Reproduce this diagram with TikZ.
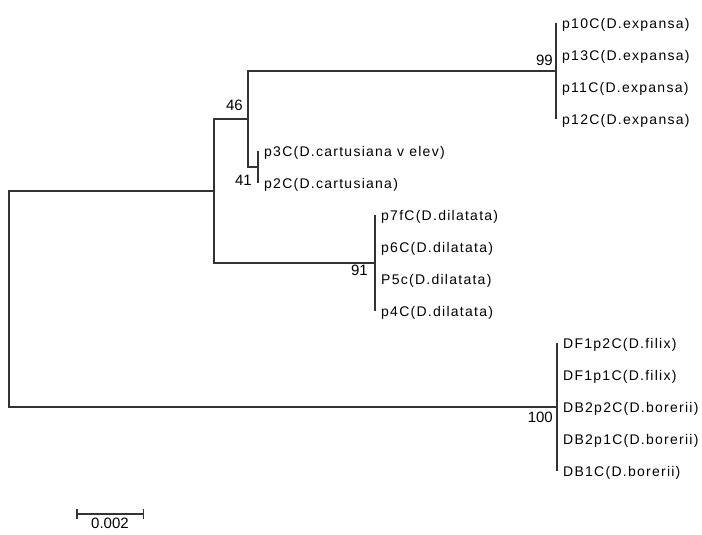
\documentclass[tikz,border=0pt]{standalone}
\usepackage{fontspec}
\setmainfont{Liberation Sans}
\newfontfamily\taxonfont{Liberation Sans}[LetterSpace=9]
\usetikzlibrary{arrows.meta,positioning}

\begin{document}
\begin{tikzpicture}[
    x=1pt, y=-1pt,
    node distance=6pt,
    branch/.style={draw=black!80, line width=1.8pt},
    taxon/.style={font=\taxonfont\fontsize{14}{14}\selectfont, inner sep=0pt, yshift=-2pt},
    boot/.style={font=\fontsize{15}{15}\selectfont, inner sep=0pt},
    scalebar/.style={branch, line width=1.5pt, {Bar[width=10pt]}-{Bar[width=10pt]}}
  ]
    \useasboundingbox (0,0) rectangle (702,535);

    % internal nodes of the tree
    \coordinate (root) at (9,299);
    \coordinate (nA) at (214,191);
    \coordinate (nB) at (248,119);
    \coordinate (nC) at (258,167);
    \coordinate (nD) at (556,71);
    \coordinate (nE) at (375,263);
    \coordinate (nF) at (557,407);

    % tips
    \coordinate (t1) at (556,23);
    \coordinate (t2) at (556,55);
    \coordinate (t3) at (556,87);
    \coordinate (t4) at (556,119);
    \coordinate (t5) at (258,151);
    \coordinate (t6) at (258,183);
    \coordinate (t7) at (375,215);
    \coordinate (t8) at (375,247);
    \coordinate (t9) at (375,279);
    \coordinate (t10) at (375,311);
    \coordinate (t11) at (557,343);
    \coordinate (t12) at (557,375);
    \coordinate (t13) at (557,407);
    \coordinate (t14) at (557,439);
    \coordinate (t15) at (557,471);

    \node[taxon, right=of t1] (p10C) {p10C(D.expansa)};
    \node[taxon, right=of t2] (p13C) {p13C(D.expansa)};
    \node[taxon, right=of t3] (p11C) {p11C(D.expansa)};
    \node[taxon, right=of t4] (p12C) {p12C(D.expansa)};
    \node[taxon, right=of t5] (p3C) {p3C(D.cartusiana v elev)};
    \node[taxon, right=of t6] (p2C) {p2C(D.cartusiana)};
    \node[taxon, right=of t7] (p7fC) {p7fC(D.dilatata)};
    \node[taxon, right=of t8] (p6C) {p6C(D.dilatata)};
    \node[taxon, right=of t9] (P5c) {P5c(D.dilatata)};
    \node[taxon, right=of t10] (p4C) {p4C(D.dilatata)};
    \node[taxon, right=of t11] (DF1p2C) {DF1p2C(D.filix)};
    \node[taxon, right=of t12] (DF1p1C) {DF1p1C(D.filix)};
    \node[taxon, right=of t13] (DB2p2C) {DB2p2C(D.borerii)};
    \node[taxon, right=of t14] (DB2p1C) {DB2p1C(D.borerii)};
    \node[taxon, right=of t15] (DB1C) {DB1C(D.borerii)};

    % bootstrap values
    \node[boot, above left=5pt and 3pt of nD] (b99) {99};
    \node[boot, above left=8pt and 5pt of nB] (b46) {46};
    \node[boot, below left=8pt and 6pt of nC] (b41) {41};
    \node[boot, below left=2pt and 7pt of nE] (b91) {91};
    \node[boot, below left=5pt and 4pt of nF] (b100) {100};

    \draw[branch] (root) |- (nA);
    \draw[branch] (root) |- (nF);
    \draw[branch] (nA) |- (nB);
    \draw[branch] (nA) |- (nE);
    \draw[branch] (nB) |- (nD);
    \draw[branch] (nB) |- (nC);
    \draw[branch] (t1) -- (t4);
    \draw[branch] (t5) -- (t6);
    \draw[branch] (t7) -- (t10);
    \draw[branch] (t11) -- (t15);

    % scale
    \coordinate (sbl) at (76,514);
    \coordinate (sbr) at (144,514);
    \coordinate (sbm) at (110,514);
    \draw[scalebar] (sbl) -- (sbr);
    \node[boot, below=4pt of sbm] (scale) {0.002};
  \end{tikzpicture}
\end{document}
